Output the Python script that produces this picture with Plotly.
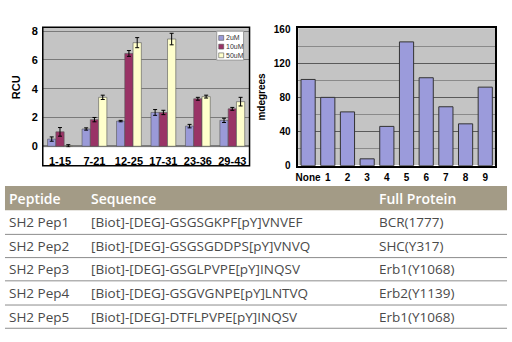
import plotly.graph_objects as go

W, H = 512, 342

# ---- Left chart data (RCU) ----
groups = ["1-15", "7-21", "12-25", "17-31", "23-36", "29-43"]
series_names = ["2uM", "10uM", "50uM"]
rcu_2uM = [0.5, 1.2, 1.75, 2.35, 1.4, 1.8]
rcu_10uM = [1.0, 1.85, 6.45, 2.35, 3.3, 2.6]
rcu_50uM = [0.03, 3.4, 7.2, 7.45, 3.45, 3.1]
err_2uM = [0.15, 0.08, 0.05, 0.2, 0.12, 0.15]
err_10uM = [0.3, 0.15, 0.2, 0.15, 0.1, 0.1]
err_50uM = [0.08, 0.15, 0.35, 0.4, 0.1, 0.3]
rcu_ticks = [0, 2, 4, 6, 8]

# ---- Right chart data (mdegrees) ----
md_cats = ["None", "1", "2", "3", "4", "5", "6", "7", "8", "9"]
md_vals = [101, 80, 63, 8, 46, 145, 103, 69, 49, 92]
md_ticks = [0, 40, 80, 120, 160]

# ---- Table ----
tbl_header = ["Peptide", "Sequence", "Full Protein"]
tbl_peptide = ["SH2 Pep1", "SH2 Pep2", "SH2 Pep3", "SH2 Pep4", "SH2 Pep5"]
tbl_sequence = [
    "[Biot]-[DEG]-GSGSGKPF[pY]VNVEF",
    "[Biot]-[DEG]-GSGSGDDPS[pY]VNVQ",
    "[Biot]-[DEG]-GSGLPVPE[pY]INQSV",
    "[Biot]-[DEG]-GSGVGNPE[pY]LNTVQ",
    "[Biot]-[DEG]-DTFLPVPE[pY]INQSV",
]
tbl_protein = ["BCR(1777)", "SHC(Y317)", "Erb1(Y1068)", "Erb2(Y1139)", "Erb1(Y1068)"]

colors = ["#9a9ad8", "#993366", "#ffffcc"]
GRAYBG = "#c4c4c4"
BOLD = dict(family="Liberation Sans", size=10, color="black", weight="bold")

def px(x):
    return x / W

def py(y):
    return 1 - y / H

fig = go.Figure()

for name, vals, errs, c in zip(series_names, [rcu_2uM, rcu_10uM, rcu_50uM],
                               [err_2uM, err_10uM, err_50uM], colors):
    fig.add_trace(go.Bar(
        x=groups, y=vals, name=name, showlegend=False,
        marker=dict(color=c, line=dict(color="#555", width=0.6)),
        error_y=dict(type="data", array=errs, color="black", thickness=1, width=2),
        xaxis="x", yaxis="y",
    ))

fig.add_trace(go.Bar(
    x=md_cats, y=md_vals, showlegend=False,
    marker=dict(color="#9b9bdb", line=dict(color="#333", width=1)),
    xaxis="x2", yaxis="y2",
))

fig.update_layout(
    width=W, height=H, margin=dict(l=0, r=0, t=0, b=0),
    paper_bgcolor="white", plot_bgcolor=GRAYBG,
    barmode="group", bargap=0.28, bargroupgap=0,
    xaxis=dict(domain=[px(40), px(248)], anchor="y", tickfont=dict(BOLD, size=11),
               showline=False, ticks="", showgrid=False, ticklabelstandoff=6),
    yaxis=dict(domain=[py(147), py(23)], anchor="x", range=[-0.07, 8.27],
               tickvals=rcu_ticks, tickfont=dict(BOLD, size=11),
               gridcolor="#7a7a7a", gridwidth=1, zeroline=True, zerolinecolor="#7a7a7a",
               title=dict(text="RCU", font=dict(BOLD, size=11), standoff=8),
               ticklabelstandoff=4),
    xaxis2=dict(domain=[px(297), px(495)], anchor="y2", tickfont=BOLD,
                showline=True, linecolor="black", linewidth=1.5, mirror=True, ticks="",
                showgrid=False, ticklabelstandoff=2),
    yaxis2=dict(domain=[py(166), py(24)], anchor="x2", range=[0, 161],
                tickvals=md_ticks, tickfont=BOLD,
                showline=True, linecolor="black", linewidth=1.5, mirror=True,
                gridcolor="#5a5a5a", gridwidth=1.2,
                minor=dict(dtick=20, showgrid=True, gridcolor="#8a8a8a", gridwidth=1),
                title=dict(text="mdegrees", font=BOLD, standoff=6),
                ticklabelstandoff=4),
    showlegend=False,
)

shapes = []
# left chart outline box (gray area + label band)
shapes.append(dict(type="rect", xref="paper", yref="paper",
                   x0=px(40), x1=px(248), y0=py(166), y1=py(23),
                   line=dict(color="black", width=1.5), fillcolor="rgba(0,0,0,0)"))

# compact legend box for the left chart
shapes.append(dict(type="rect", xref="paper", yref="paper",
                   x0=px(215), x1=px(242), y0=py(57), y1=py(27),
                   line=dict(color="#999", width=1), fillcolor="white"))
leg_y = [34, 43, 52]
for name, c, ly in zip(series_names, colors, leg_y):
    shapes.append(dict(type="rect", xref="paper", yref="paper",
                       x0=px(217), x1=px(222), y0=py(ly + 2.5), y1=py(ly - 2.5),
                       line=dict(color="#555", width=0.6), fillcolor=c))
    fig.add_annotation(xref="paper", yref="paper", x=px(222), y=py(ly),
                       text=name, showarrow=False, xanchor="left", yanchor="middle",
                       font=dict(family="Liberation Sans", size=7, color="#333"))

# table header band
shapes.append(dict(type="rect", xref="paper", yref="paper",
                   x0=px(2), x1=px(507), y0=py(212), y1=py(187),
                   line=dict(width=0), fillcolor="#a39b86", layer="below"))
row_lines = [237, 261, 285, 310, 334]
for yl in row_lines:
    shapes.append(dict(type="line", xref="paper", yref="paper",
                       x0=px(2), x1=px(507), y0=py(yl), y1=py(yl),
                       line=dict(color="#8c8c8c", width=1)))
fig.update_layout(shapes=shapes)

col_x = [4, 87, 376]
TBLFONT = "Open Sans"
for cx, txt in zip(col_x, tbl_header):
    fig.add_annotation(xref="paper", yref="paper", x=px(cx), y=py(200),
                       text=txt, showarrow=False, xanchor="left", yanchor="middle",
                       font=dict(family=TBLFONT, size=14, color="white", weight=600))

row_y_centers = [224.5, 249, 273, 297.5, 322]
for i, yc in enumerate(row_y_centers):
    for cx, col in zip(col_x, [tbl_peptide, tbl_sequence, tbl_protein]):
        fig.add_annotation(xref="paper", yref="paper", x=px(cx), y=py(yc),
                           text=col[i], showarrow=False, xanchor="left", yanchor="middle",
                           font=dict(family=TBLFONT, size=13.5, color="#4a4a4a"))

fig.write_html("out.html")
